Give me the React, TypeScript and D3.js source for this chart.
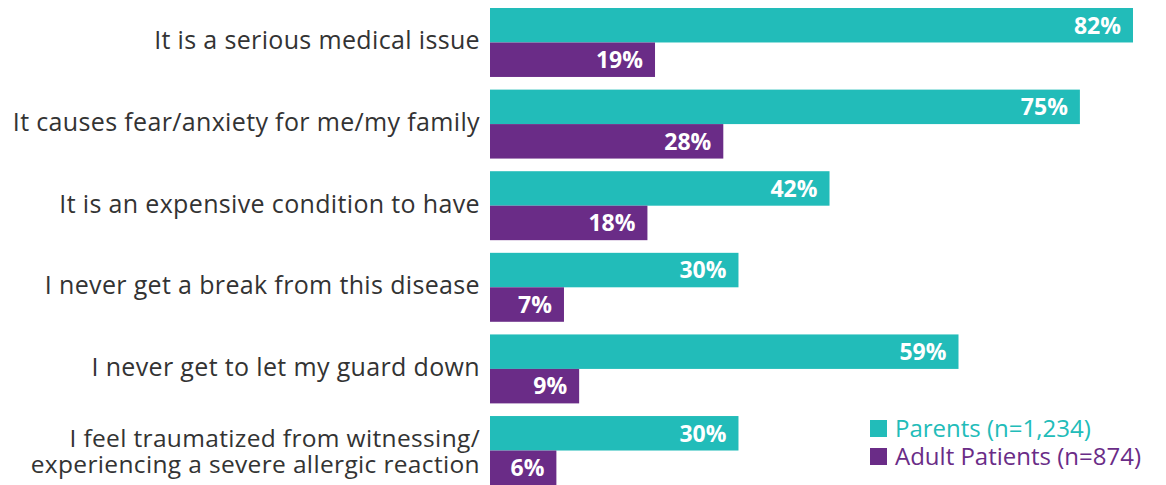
import React from "react";
import * as d3 from "d3";

const categories: string[][] = [
  ["It is a serious medical issue"],
  ["It causes fear/anxiety for me/my family"],
  ["It is an expensive condition to have"],
  ["I never get a break from this disease"],
  ["I never get to let my guard down"],
  ["I feel traumatized from witnessing/", "experiencing a severe allergic reaction"],
];
const parents = [82, 75, 42, 30, 59, 30];
const adults = [19, 28, 18, 7, 9, 6];
const seriesNames = ["Parents (n=1,234)", "Adult Patients (n=874)"];
const colors = ["#22BCB9", "#6A2C87"];

const W = 1166;
const H = 485;

export default function App() {
  const keys = categories.map((c) => c.join(" "));
  const y = d3.scaleBand<string>().domain(keys).range([8, 485]).paddingInner(0.155).paddingOuter(0);
  const x = d3.scaleLinear().domain([-2.75, 82]).range([490, 1133]);
  const bw = y.bandwidth() / 2;
  const font = "'Open Sans', sans-serif";
  return (
    <svg width={W} height={H} style={{ position: "absolute", left: 0, top: 0 }}>
      {keys.map((k, i) => {
        const y0 = y(k)!;
        const lines = categories[i];
        const cy = y0 + y.bandwidth() / 2 + (lines.length > 1 ? 3 : 0);
        const lh = 26;
        return (
          <g key={k}>
            {lines.map((ln, j) => (
              <text
                key={j}
                x={480}
                y={cy + (j - (lines.length - 1) / 2) * lh}
                dy="0.28em"
                textAnchor="end"
                fontFamily={font}
                fontSize={lines.length > 1 ? 24.5 : 25}
                letterSpacing={0.35}
                fill="#333"
              >
                {ln}
              </text>
            ))}
            {[parents[i], adults[i]].map((v, s) => (
              <g key={s}>
                <rect x={x(-2.75)} y={y0 + s * bw} width={x(v) - x(-2.75)} height={bw} fill={colors[s]} />
                <text
                  x={x(v) - 12}
                  y={y0 + s * bw + bw / 2}
                  dy="0.36em"
                  textAnchor="end"
                  fontFamily={font}
                  fontWeight={700}
                  fontSize={23}
                  fill="#fff"
                >
                  {v}%
                </text>
              </g>
            ))}
          </g>
        );
      })}
      {seriesNames.map((n, i) => (
        <g key={n}>
          <rect x={870} y={420 + i * 28} width={17} height={17} fill={colors[i]} />
          <text x={895} y={437 + i * 28} fontFamily={font} fontSize={24} fill={colors[i]}>
            {n}
          </text>
        </g>
      ))}
    </svg>
  );
}
